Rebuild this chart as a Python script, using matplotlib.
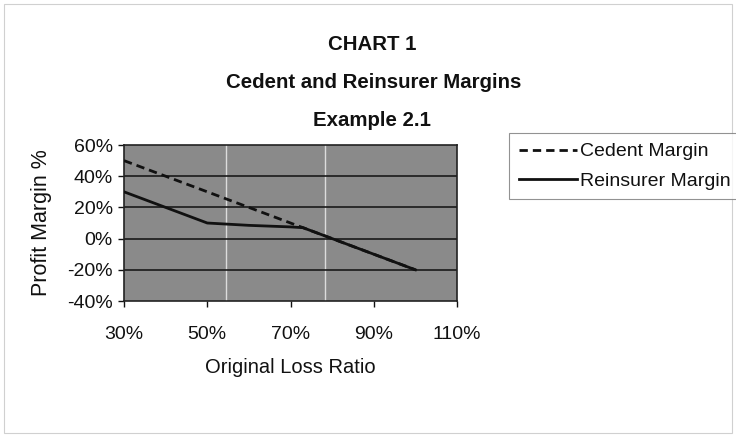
import matplotlib.pyplot as plt
from matplotlib.patches import Rectangle
from matplotlib.ticker import PercentFormatter

# data (loss ratio %, margin %)
loss_ratio = [30, 40, 50, 60, 70, 73, 80, 90, 100]
cedent_margin = [50, 40, 30, 20, 10, 7, 0, -10, -20]
reinsurer_margin = [30, 20, 10, 8.5, 7.5, 7, 0, -10, -20]

x_ticks = [30, 50, 70, 90, 110]
y_ticks = [-40, -20, 0, 20, 40, 60]
light_lines = [54.5, 78.3]  # pale vertical streaks on the plot area

plt.rcParams['font.family'] = ['Liberation Sans', 'DejaVu Sans']
plt.rcParams['axes.unicode_minus'] = False

fig = plt.figure(figsize=(7.36, 4.36), dpi=100)
fig.patch.set_facecolor('white')
fig.patches.append(Rectangle((0.006, 0.008), 0.988, 0.982, transform=fig.transFigure,
                             fill=False, edgecolor='#d0d0d0', linewidth=0.8))

ax = fig.add_axes([0.1685, 0.3096, 0.4525, 0.3578])
ax.set_facecolor('#8a8a8a')

for v in light_lines:
    ax.axvline(v, color='#dcdcdc', linewidth=1.0, zorder=1)
for v in y_ticks[1:-1]:
    ax.axhline(v, color='#1a1a1a', linewidth=1.2, zorder=1)

ax.plot(loss_ratio, cedent_margin, color='#111111', linewidth=2.0,
        dashes=(3, 1.8), label='Cedent Margin', zorder=3)
ax.plot(loss_ratio, reinsurer_margin, color='#111111', linewidth=2.0,
        label='Reinsurer Margin', zorder=4)

ax.set_xlim(30, 110)
ax.set_ylim(-40, 60)
ax.set_xticks(x_ticks)
ax.set_yticks(y_ticks)
ax.xaxis.set_major_formatter(PercentFormatter(decimals=0))
ax.yaxis.set_major_formatter(PercentFormatter(decimals=0))
ax.tick_params(axis='both', direction='out', length=4, width=1, labelsize=14,
               colors='#111111', pad=4)
ax.tick_params(axis='x', pad=14)
for s in ax.spines.values():
    s.set_color('#222222')
    s.set_linewidth(1.2)

fig.text(42 / 736, 1 - 223 / 436, 'Profit Margin %', rotation=90,
         ha='center', va='center', fontsize=15.5, color='#111111')
fig.text(290 / 736, 1 - 367 / 436, 'Original Loss Ratio',
         ha='center', va='center', fontsize=14.5, color='#111111')

fig.text(372 / 736, 1 - 45 / 436, 'CHART 1', ha='center', va='center',
         fontsize=14.7, fontweight='bold', color='#111111')
fig.text(374 / 736, 1 - 83 / 436, 'Cedent and Reinsurer Margins', ha='center',
         va='center', fontsize=14.7, fontweight='bold', color='#111111')
fig.text(372 / 736, 1 - 120 / 436, 'Example 2.1', ha='center', va='center',
         fontsize=14.7, fontweight='bold', color='#111111')

leg = fig.legend(loc='upper left', bbox_to_anchor=(509 / 736, 1 - 133 / 436),
                 fontsize=14, frameon=True, fancybox=False, handlelength=3.0,
                 handletextpad=0.15, borderpad=0.5, labelspacing=0.6,
                 borderaxespad=0)
leg.get_frame().set_edgecolor('#777777')
leg.get_frame().set_linewidth(0.8)
for t in leg.get_texts():
    t.set_color('#111111')

fig.savefig('out.png', dpi=100)
